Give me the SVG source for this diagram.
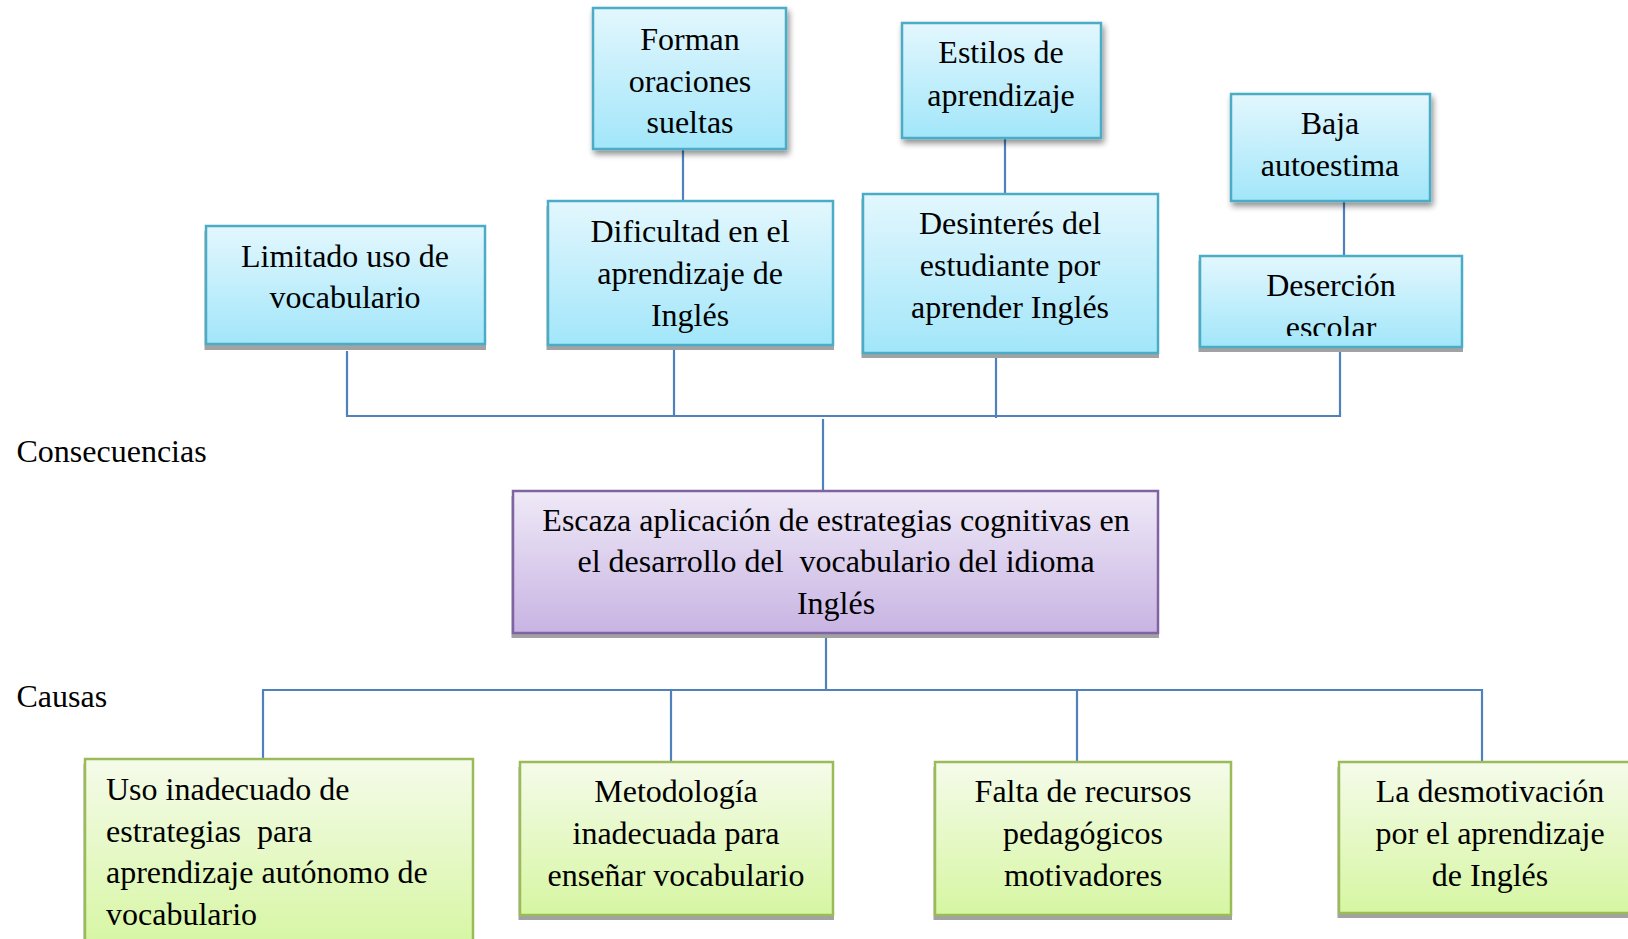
<svg xmlns="http://www.w3.org/2000/svg" width="1628" height="939" viewBox="0 0 1628 939">
<style>
text{font-family:"Liberation Serif","Times New Roman",serif;font-size:32px;fill:#000;white-space:pre}
.c{text-anchor:middle}
.blue{fill:url(#gBlue);stroke:#4bacc6;stroke-width:2.5}
.purple{fill:url(#gPurple);stroke:#8064a2;stroke-width:2.5}
.green{fill:url(#gGreen);stroke:#9bbb59;stroke-width:2.5}
.sh{fill:#a2a2a2}
.conn line{stroke:#4f81bd;stroke-width:2.2}
</style>
<defs>
<linearGradient id="gBlue" x1="0" y1="0" x2="0" y2="1"><stop offset="0" stop-color="#e3f7fd"/><stop offset="1" stop-color="#a2e6fa"/></linearGradient>
<linearGradient id="gPurple" x1="0" y1="0" x2="0" y2="1"><stop offset="0" stop-color="#efe9f7"/><stop offset="1" stop-color="#c8b4e3"/></linearGradient>
<linearGradient id="gGreen" x1="0" y1="0" x2="0" y2="1"><stop offset="0" stop-color="#f5fbea"/><stop offset="1" stop-color="#d6f6a2"/></linearGradient>
<filter id="soft" x="-10%" y="-10%" width="130%" height="130%"><feGaussianBlur in="SourceAlpha" stdDeviation="3"/><feOffset dx="2" dy="4"/><feComponentTransfer><feFuncA type="linear" slope="0.45"/></feComponentTransfer><feMerge><feMergeNode/><feMergeNode in="SourceGraphic"/></feMerge></filter>
<clipPath id="clipDes"><rect x="1200" y="256" width="262" height="80"/></clipPath>
</defs>
<rect width="1628" height="939" fill="#fff"/>

<g id="connectors" class="conn">
<line x1="683" y1="149" x2="683" y2="201"/>
<line x1="1005" y1="138" x2="1005" y2="194"/>
<line x1="1344" y1="201" x2="1344" y2="256"/>
<line x1="347" y1="351" x2="347" y2="417"/>
<line x1="674" y1="349" x2="674" y2="417"/>
<line x1="996" y1="357" x2="996" y2="418"/>
<line x1="1340" y1="352" x2="1340" y2="417"/>
<line x1="346" y1="416" x2="1341" y2="416"/>
<line x1="823" y1="419" x2="823" y2="491"/>
<line x1="826" y1="638" x2="826" y2="690"/>
<line x1="262" y1="690" x2="1483" y2="690"/>
<line x1="263" y1="690" x2="263" y2="759"/>
<line x1="671" y1="690" x2="671" y2="762"/>
<line x1="1077" y1="690" x2="1077" y2="762"/>
<line x1="1482" y1="689" x2="1482" y2="763"/>
</g>

<g id="n-forman">
<rect class="blue" x="593" y="8" width="193" height="141" filter="url(#soft)"/>
<text class="c" x="690" y="50">Forman</text>
<text class="c" x="690" y="91.5">oraciones</text>
<text class="c" x="690" y="133">sueltas</text>
</g>
<g id="n-estilos">
<rect class="blue" x="902" y="23" width="199" height="115" filter="url(#soft)"/>
<text class="c" x="1001" y="63">Estilos de</text>
<text class="c" x="1001" y="105.5">aprendizaje</text>
</g>
<g id="n-baja">
<rect class="blue" x="1231" y="94" width="199" height="107" filter="url(#soft)"/>
<text class="c" x="1330" y="134">Baja</text>
<text class="c" x="1330" y="176">autoestima</text>
</g>

<g id="n-limitado">
<rect class="sh" x="204.5" y="231" width="281.5" height="119"/>
<rect class="blue" x="206" y="226" width="279" height="118"/>
<text class="c" x="345" y="266.5">Limitado uso de</text>
<text class="c" x="345" y="308">vocabulario</text>
</g>
<g id="n-dificultad">
<rect class="sh" x="546.5" y="206" width="287.5" height="144"/>
<rect class="blue" x="548" y="201" width="285" height="144"/>
<text class="c" x="690" y="242">Dificultad en el</text>
<text class="c" x="690" y="284">aprendizaje de</text>
<text class="c" x="690" y="325.5">Inglés</text>
</g>
<g id="n-desinteres">
<rect class="sh" x="861.5" y="199" width="297.5" height="159"/>
<rect class="blue" x="863" y="194" width="295" height="159"/>
<text class="c" x="1010" y="234">Desinterés del</text>
<text class="c" x="1010" y="276">estudiante por</text>
<text class="c" x="1010" y="318">aprender Inglés</text>
</g>
<g id="n-desercion">
<rect class="sh" x="1198.5" y="261" width="264.5" height="91"/>
<rect class="blue" x="1200" y="256" width="262" height="91"/>
<g clip-path="url(#clipDes)">
<text class="c" x="1331" y="295.5">Deserción</text>
<text class="c" x="1331" y="337.5">escolar</text>
</g>
</g>

<g id="n-central">
<rect class="sh" x="511.5" y="496" width="647.5" height="142"/>
<rect class="purple" x="513" y="491" width="645" height="142"/>
<text class="c" x="836" y="531">Escaza aplicación de estrategias cognitivas en</text>
<text class="c" x="836" y="572">el desarrollo del  vocabulario del idioma</text>
<text class="c" x="836" y="614">Inglés</text>
</g>

<g id="labels">
<text x="16.5" y="462">Consecuencias</text>
<text x="16.5" y="707">Causas</text>
</g>

<g id="n-uso">
<rect class="sh" x="83.5" y="764" width="390.5" height="185"/>
<rect class="green" x="85" y="759" width="388" height="190"/>
<text x="106" y="800">Uso inadecuado de</text>
<text x="106" y="841.5">estrategias  para</text>
<text x="106" y="883">aprendizaje autónomo de</text>
<text x="106" y="924.5">vocabulario</text>
</g>
<g id="n-metodologia">
<rect class="sh" x="518.5" y="767" width="315.5" height="153"/>
<rect class="green" x="520" y="762" width="313" height="153"/>
<text class="c" x="676" y="802">Metodología</text>
<text class="c" x="676" y="844">inadecuada para</text>
<text class="c" x="676" y="886">enseñar vocabulario</text>
</g>
<g id="n-falta">
<rect class="sh" x="933.5" y="767" width="298.5" height="153"/>
<rect class="green" x="935" y="762" width="296" height="153"/>
<text class="c" x="1083" y="802">Falta de recursos</text>
<text class="c" x="1083" y="844">pedagógicos</text>
<text class="c" x="1083" y="886">motivadores</text>
</g>
<g id="n-desmotivacion">
<rect class="sh" x="1337.5" y="767" width="304.5" height="151"/>
<rect class="green" x="1339" y="762" width="302" height="151"/>
<text class="c" x="1490" y="802">La desmotivación</text>
<text class="c" x="1490" y="844">por el aprendizaje</text>
<text class="c" x="1490" y="886">de Inglés</text>
</g>
</svg>
